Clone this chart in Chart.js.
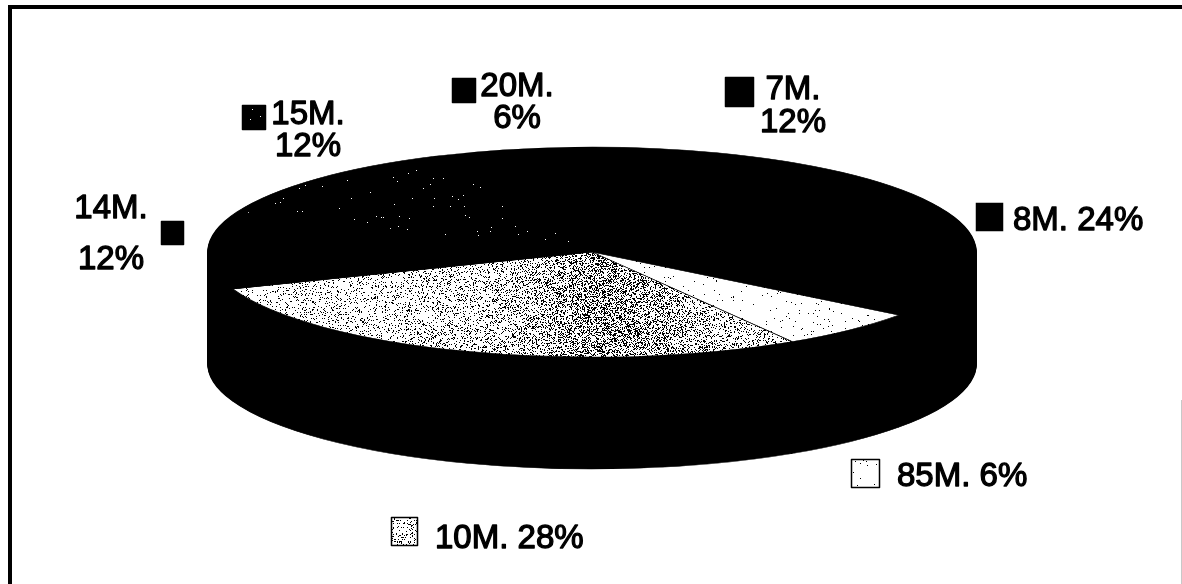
<!DOCTYPE html>
<html>
<head>
<meta charset="utf-8">
<title>Pie</title>
<script src="https://cdn.jsdelivr.net/npm/chart.js@4/dist/chart.umd.min.js"></script>
<style>
  html, body { margin: 0; background: #fff; }
  #wrap { position: relative; width: 1182px; height: 584px; overflow: hidden; }
</style>
</head>
<body>
<div id="wrap"><canvas id="pie"></canvas></div>
<script>
  // slices run clockwise, starting at 8M.
  const sliceNames = ['8M.', '85M.', '10M.', '14M.', '15M.', '20M.', '7M.'];
  const slicePercents = [24, 6, 28, 12, 12, 6, 12];
  const startAngle = 40.6;

  const W = 1182;
  const H = 584;
  const RADIUS = 384;
  const FLATTEN = 105 / 384; // vertical squash of the disc
  const DEPTH = 112;

  // where each key goes: square box, then text lines (x is the line's centre when two lines)
  const keySpots = [
    { box: [976, 203, 27, 28], x: 1013, lines: [230] },
    { box: [851, 459, 29, 29], x: 897, lines: [486] },
    { box: [391, 517, 27, 29], x: 435, lines: [548] },
    { box: [161, 221, 23, 24], x: 111, lines: [218, 269], center: true },
    { box: [242, 105, 24, 25], x: 308, lines: [124, 156], center: true },
    { box: [452, 78, 24, 25], x: 517, lines: [96, 128], center: true },
    { box: [725, 77, 29, 30], x: 793, lines: [99, 132], center: true },
  ];

  // grainy fill bitmap the size of the canvas; density(x) = chance of a light pixel
  function makeGrain(density) {
    const c = document.createElement('canvas');
    c.width = W;
    c.height = H;
    const g = c.getContext('2d');
    const img = g.createImageData(W, H);
    let seed = 4242;
    for (let y = 0; y < H; y++) {
      for (let x = 0; x < W; x++) {
        seed = (seed * 1664525 + 1013904223) >>> 0;
        const v = seed / 4294967296 < density(x) ? 255 : 0;
        const i = (y * W + x) * 4;
        img.data[i] = img.data[i + 1] = img.data[i + 2] = v;
        img.data[i + 3] = 255;
      }
    }
    g.putImageData(img, 0, 0);
    return c;
  }

  const ctx = document.getElementById('pie').getContext('2d');
  const grain10 = ctx.createPattern(makeGrain((x) => {
    // mostly light, with a darker band just under the centre
    const band = Math.exp(-Math.pow((x - 610) / 70, 2)) * 0.2;
    return (x < 560 ? 0.9 - (x - 230) * 0.0003 : 0.8) - band;
  }), 'repeat');
  const grain85 = ctx.createPattern(makeGrain(() => 0.985), 'repeat');
  const grain15 = ctx.createPattern(makeGrain(() => 0.004), 'repeat');

  const sliceFills = ['#000', grain85, grain10, '#000', grain15, '#000', '#000'];
  const grains = [grain10, grain85, grain15];

  // squash about the disc centre so the circle Chart.js draws becomes an ellipse
  function squash(c, cx, cy, dy) {
    c.translate(cx, cy + dy);
    c.scale(1, FLATTEN);
    c.translate(-cx, -cy);
  }

  const discPlugin = {
    id: 'disc',
    beforeDatasetsDraw(chart) {
      const c = chart.ctx;
      const arcs = chart.getDatasetMeta(0).data;
      const cx = arcs[0].x;
      const cy = arcs[0].y;

      // wall of the disc: the same arcs repeated in black, stepping upward
      arcs.forEach((arc) => {
        const saved = arc.options;
        arc.options = Object.assign({}, saved, { backgroundColor: '#000', borderColor: '#000' });
        for (let dy = DEPTH; dy > 0; dy -= 1) {
          c.save();
          squash(c, cx, cy, dy);
          arc.draw(c);
          c.restore();
        }
        arc.options = saved;
      });

      c.save();
      squash(c, cx, cy, 0);
      // keep the grain at device pixels under the squash
      const inv = c.getTransform().inverse();
      grains.forEach((p) => p.setTransform(inv));
    },
    afterDatasetsDraw(chart) {
      chart.ctx.restore();
      grains.forEach((p) => p.setTransform(new DOMMatrix()));
    },
    afterDraw(chart) {
      const c = chart.ctx;
      c.save();

      // page frame
      c.fillStyle = '#000';
      c.fillRect(8, 5, W - 8, 4);
      c.fillRect(8, 5, 4, H - 5);
      c.fillStyle = '#c8c8c8';
      c.fillRect(W - 1, 400, 1, H - 400);

      c.font = '33px "Liberation Sans", Arial, sans-serif';
      c.textBaseline = 'alphabetic';
      sliceNames.forEach((name, i) => {
        const spot = keySpots[i];
        const [bx, by, bw, bh] = spot.box;
        c.fillStyle = sliceFills[i];
        c.fillRect(bx, by, bw, bh);
        c.strokeStyle = '#000';
        c.lineWidth = 1.5;
        c.strokeRect(bx + 0.5, by + 0.5, bw - 1, bh - 1);

        const pct = slicePercents[i] + '%';
        const rows = spot.lines.length > 1 ? [name, pct] : [name + ' ' + pct];
        c.textAlign = spot.center ? 'center' : 'left';
        c.fillStyle = '#000';
        c.strokeStyle = '#000';
        c.lineWidth = 1.3;
        c.lineJoin = 'round';
        rows.forEach((row, r) => {
          c.fillText(row, spot.x, spot.lines[r]);
          c.strokeText(row, spot.x, spot.lines[r]);
        });
      });
      c.restore();
    },
  };

  new Chart(ctx, {
    type: 'pie',
    data: {
      labels: sliceNames,
      datasets: [{
        data: slicePercents,
        backgroundColor: sliceFills,
        borderColor: '#000',
        borderWidth: 1.5,
        clip: false,
      }],
    },
    options: {
      responsive: true,
      maintainAspectRatio: false,
      animation: false,
      radius: RADIUS,
      rotation: startAngle,
      layout: { padding: { left: 2, bottom: 80 } },
      plugins: { legend: { display: false }, tooltip: { enabled: false } },
    },
    plugins: [discPlugin],
  });
</script>
</body>
</html>
